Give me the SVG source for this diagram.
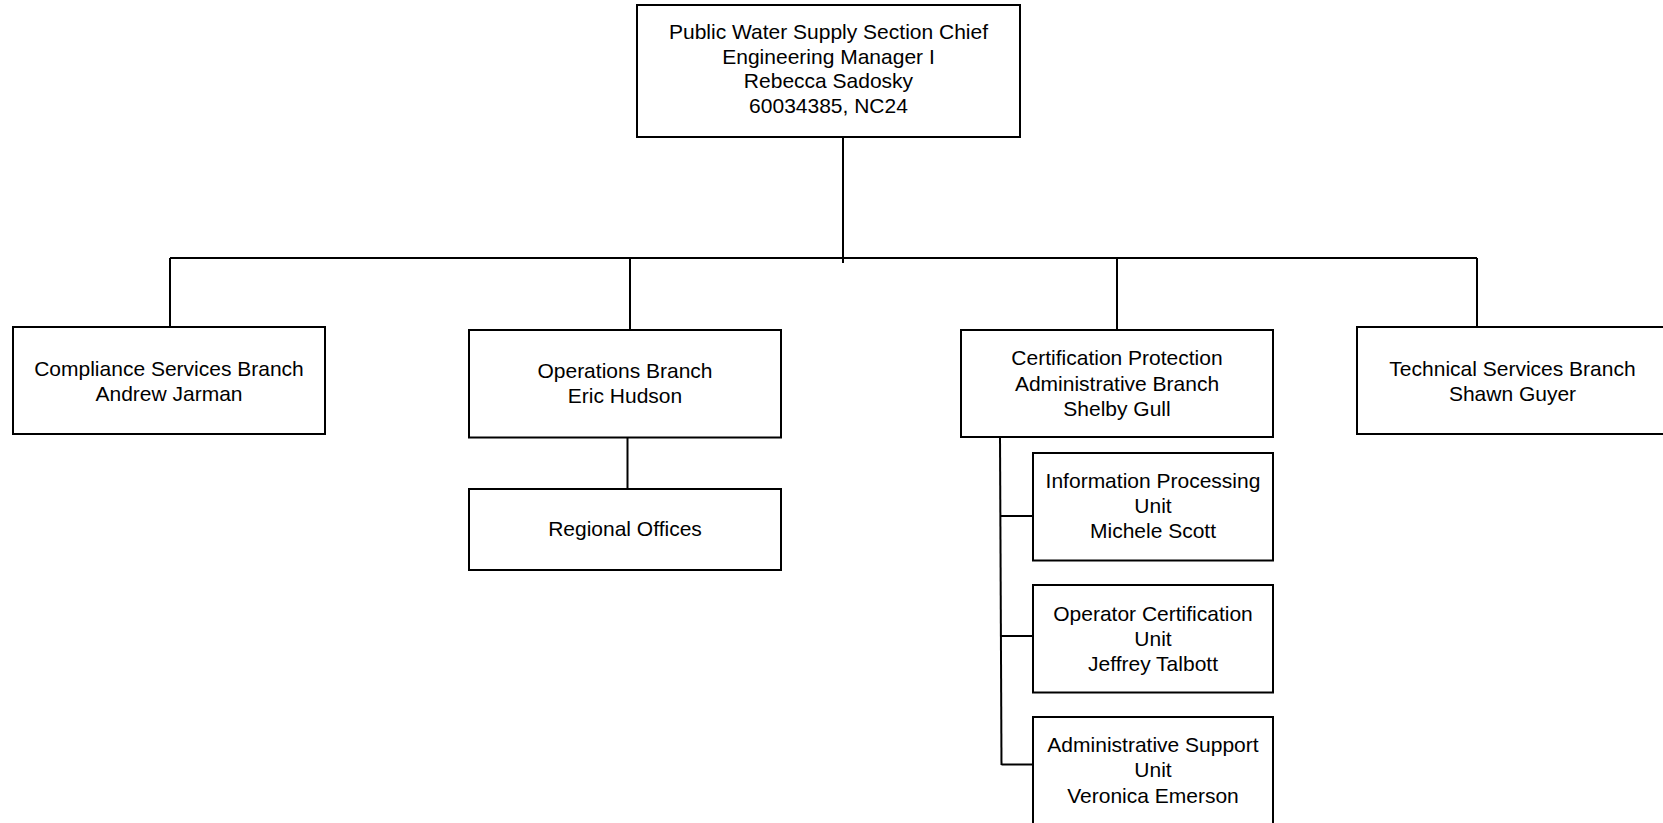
<svg xmlns="http://www.w3.org/2000/svg" width="1663" height="823" viewBox="0 0 1663 823">
<style>
.box{fill:#fff;stroke:#000;stroke-width:2}
.ln{fill:none;stroke:#000;stroke-width:2}
text{font-family:"Liberation Sans",Arial,sans-serif;font-size:21px;fill:#000;text-anchor:middle}
</style>
<rect width="1663" height="823" fill="#fff"/>
<g id="connectors">
<line class="ln" x1="843" y1="138" x2="843" y2="263"/>
<line class="ln" x1="170" y1="258" x2="1477" y2="258"/>
<line class="ln" x1="170" y1="258" x2="170" y2="327"/>
<line class="ln" x1="630" y1="258" x2="630" y2="330"/>
<line class="ln" x1="1117" y1="258" x2="1117" y2="330"/>
<line class="ln" x1="1477" y1="258" x2="1477" y2="327"/>
<line class="ln" x1="627.5" y1="437" x2="627.5" y2="492"/>
<line class="ln" x1="1000" y1="437" x2="1001.5" y2="765"/>
<line class="ln" x1="1000.5" y1="516" x2="1033" y2="516"/>
<line class="ln" x1="1001" y1="636" x2="1033" y2="636"/>
<line class="ln" x1="1001.5" y1="764.5" x2="1033" y2="764.5"/>
</g>
<g id="chief">
<rect class="box" x="637" y="5" width="383" height="132"/>
<text x="828.5" y="39">Public Water Supply Section Chief</text>
<text x="828.5" y="63.5">Engineering Manager I</text>
<text x="828.5" y="88">Rebecca Sadosky</text>
<text x="828.5" y="112.5">60034385, NC24</text>
</g>
<g id="compliance">
<rect class="box" x="13" y="327" width="312" height="107"/>
<text x="169" y="375.5">Compliance Services Branch</text>
<text x="169" y="400.5">Andrew Jarman</text>
</g>
<g id="operations">
<rect class="box" x="469" y="330" width="312" height="107.5"/>
<text x="625" y="378">Operations Branch</text>
<text x="625" y="403">Eric Hudson</text>
</g>
<g id="regional">
<rect class="box" x="469" y="489" width="312" height="81"/>
<text x="625" y="536">Regional Offices</text>
</g>
<g id="certification">
<rect class="box" x="961" y="330" width="312" height="107"/>
<text x="1117" y="365">Certification Protection</text>
<text x="1117" y="390.5">Administrative Branch</text>
<text x="1117" y="415.5">Shelby Gull</text>
</g>
<g id="info-processing">
<rect class="box" x="1033" y="453" width="240" height="107.5"/>
<text x="1153" y="487.5">Information Processing</text>
<text x="1153" y="512.5">Unit</text>
<text x="1153" y="537.5">Michele Scott</text>
</g>
<g id="operator-cert">
<rect class="box" x="1033" y="585" width="240" height="107.5"/>
<text x="1153" y="620.5">Operator Certification</text>
<text x="1153" y="646">Unit</text>
<text x="1153" y="671">Jeffrey Talbott</text>
</g>
<g id="admin-support">
<rect class="box" x="1033" y="717" width="240" height="120"/>
<text x="1153" y="752">Administrative Support</text>
<text x="1153" y="777">Unit</text>
<text x="1153" y="802.5">Veronica Emerson</text>
</g>
<g id="technical">
<rect class="box" x="1357" y="327" width="320" height="107"/>
<text x="1512.5" y="375.5">Technical Services Branch</text>
<text x="1512.5" y="400.5">Shawn Guyer</text>
</g>
</svg>
